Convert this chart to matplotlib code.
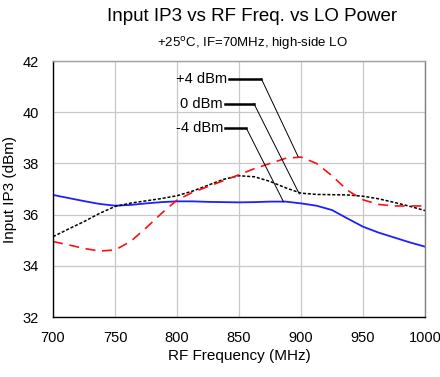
import matplotlib.pyplot as plt

plt.rcParams['font.family'] = ['Liberation Sans', 'DejaVu Sans']

freq = [700, 712.5, 725, 737.5, 750, 762.5, 775, 787.5, 800, 812.5, 825, 837.5, 850,
        862.5, 875, 887.5, 900, 912.5, 925, 937.5, 950, 962.5, 975, 987.5, 1000]
ip3_m4 = [36.77, 36.65, 36.53, 36.42, 36.35, 36.38, 36.44, 36.49, 36.52, 36.52, 36.50, 36.49, 36.48,
          36.49, 36.51, 36.51, 36.44, 36.35, 36.18, 35.85, 35.53, 35.30, 35.11, 34.92, 34.75]
ip3_0 = [35.14, 35.44, 35.73, 36.05, 36.32, 36.45, 36.54, 36.63, 36.74, 36.92, 37.15, 37.38, 37.52,
         37.48, 37.30, 37.05, 36.84, 36.79, 36.78, 36.77, 36.72, 36.62, 36.48, 36.33, 36.16]
ip3_p4 = [34.95, 34.82, 34.68, 34.58, 34.62, 34.95, 35.48, 36.05, 36.57, 36.87, 37.10, 37.33, 37.56,
          37.80, 38.00, 38.20, 38.25, 38.00, 37.52, 36.95, 36.58, 36.40, 36.34, 36.34, 36.34]

# label text, elbow line, curve point
labels = ["+4 dBm", "0 dBm", "-4 dBm"]
label_y = [41.31, 40.34, 39.37]
elbow_x0 = [842, 839, 839]
elbow_x1 = [868, 862, 856]
tip_x = [897.6, 898.6, 885.8]
tip_y = [38.27, 36.81, 36.51]

fig = plt.figure(figsize=(4.4, 3.77), dpi=100)
ax = fig.add_axes([0.1205, 0.159, 0.8455, 0.679])

ax.plot(freq, ip3_m4, color='#1f1fff', lw=1.3)
ax.plot(freq, ip3_0, color='black', lw=1.1, dashes=(2, 1.2))
ax.plot(freq, ip3_p4, color='#ff1010', lw=1.2, dashes=(6, 4))

for i in range(len(labels)):
    ax.text(elbow_x0[i] - 2, label_y[i], labels[i], ha='right', va='center', fontsize=10.5)
    ax.plot([elbow_x0[i], elbow_x1[i]], [label_y[i], label_y[i]], color='black', lw=1.8)
    ax.plot([elbow_x1[i], tip_x[i]], [label_y[i], tip_y[i]], color='black', lw=0.7)

ax.set_xlim(700, 1000)
ax.set_ylim(32, 42)
ax.set_xticks(range(700, 1001, 50))
ax.set_yticks(range(32, 43, 2))
ax.grid(True, color='#c8c8c8', lw=0.9)
ax.set_axisbelow(True)
ax.tick_params(length=0, labelsize=10.5, pad=10)
ax.spines['left'].set_color('black')
ax.spines['bottom'].set_color('black')
ax.spines['top'].set_color('#a0a0a0')
ax.spines['right'].set_color('#808080')
for s in ax.spines.values():
    s.set_linewidth(1.0)

ax.set_xlabel('RF Frequency (MHz)', fontsize=11, labelpad=3)
ax.set_ylabel('Input IP3 (dBm)', fontsize=11)
ax.yaxis.set_label_coords(-0.097, 0.5)

fig.text(0.573, 0.955, 'Input IP3 vs RF Freq. vs LO Power', ha='center', va='center', fontsize=13.5)
fig.text(0.573, 0.885, '+25$^{\\mathrm{o}}$C, IF=70MHz, high-side LO', ha='center', va='center', fontsize=9.5)

fig.savefig('out.png', dpi=100)
